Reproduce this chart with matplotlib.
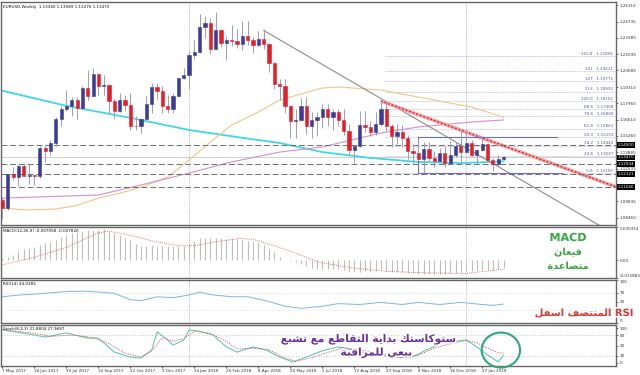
import numpy as np
import matplotlib
matplotlib.use('Agg')
import matplotlib.pyplot as plt
import matplotlib.patheffects as pe
from matplotlib.patches import Ellipse
from matplotlib.transforms import blended_transform_factory

# ---------------- data (EURUSD weekly) ----------------
opens = [1.0998, 1.0932, 1.1207, 1.1183, 1.1280, 1.1196, 1.1198, 1.1195, 1.1425, 1.1400,
         1.1470, 1.1665, 1.1750, 1.1773, 1.1820, 1.1760, 1.1923, 1.1860, 1.2035, 1.1943,
         1.1950, 1.1815, 1.1730, 1.1822, 1.1785, 1.1608, 1.1607, 1.1665, 1.1790, 1.1935,
         1.1895, 1.1770, 1.1750, 1.1860, 1.2005, 1.2030, 1.2200, 1.2220, 1.2425, 1.2460,
         1.2250, 1.2405, 1.2295, 1.2320, 1.2310, 1.2285, 1.2355, 1.2320, 1.2280, 1.2330,
         1.2290, 1.2130, 1.1960, 1.1940, 1.1770, 1.1650, 1.1660, 1.1770, 1.1610, 1.1655,
         1.1685, 1.1745, 1.1685, 1.1720, 1.1655, 1.1570, 1.1410, 1.1440, 1.1620, 1.1600,
         1.1555, 1.1625, 1.1745, 1.1605, 1.1525, 1.1560, 1.1510, 1.1400, 1.1385, 1.1335,
         1.1415, 1.1340, 1.1315, 1.1380, 1.1305, 1.1370, 1.1440, 1.1395, 1.1470, 1.1365,
         1.1405, 1.1455, 1.1325, 1.1295, 1.13340]
highs = [1.1023, 1.1208, 1.1268, 1.1285, 1.1296, 1.1296, 1.1200, 1.1446, 1.1445, 1.1490,
         1.1684, 1.1777, 1.1910, 1.1845, 1.1849, 1.1941, 1.2070, 1.2092, 1.2037, 1.2034,
         1.1960, 1.1832, 1.1880, 1.1861, 1.1880, 1.1688, 1.1670, 1.1860, 1.1961, 1.1961,
         1.1940, 1.1863, 1.1880, 1.2008, 1.2089, 1.2229, 1.2323, 1.2537, 1.2520, 1.2507,
         1.2556, 1.2410, 1.2354, 1.2446, 1.2413, 1.2476, 1.2476, 1.2345, 1.2396, 1.2414,
         1.2296, 1.2140, 1.1996, 1.1998, 1.1780, 1.1745, 1.1840, 1.1852, 1.1720, 1.1720,
         1.1791, 1.1790, 1.1750, 1.1750, 1.1747, 1.1625, 1.1450, 1.1733, 1.1734, 1.1650,
         1.1722, 1.1815, 1.1815, 1.1625, 1.1621, 1.1620, 1.1530, 1.1455, 1.1500, 1.1472,
         1.1472, 1.1400, 1.1423, 1.1442, 1.1485, 1.1474, 1.1570, 1.1570, 1.1490, 1.1418,
         1.1515, 1.1470, 1.1340, 1.1370, 1.13589]
lows = [1.0839, 1.0915, 1.1160, 1.1110, 1.1196, 1.1131, 1.1119, 1.1180, 1.1313, 1.1371,
        1.1440, 1.1612, 1.1729, 1.1688, 1.1662, 1.1740, 1.1823, 1.1857, 1.1868, 1.1861,
        1.1717, 1.1669, 1.1728, 1.1730, 1.1574, 1.1573, 1.1554, 1.1650, 1.1715, 1.1828,
        1.1716, 1.1718, 1.1717, 1.1855, 1.1996, 1.1915, 1.2165, 1.2215, 1.2335, 1.2205,
        1.2245, 1.2260, 1.2154, 1.2272, 1.2258, 1.2240, 1.2276, 1.2215, 1.2272, 1.2250,
        1.2055, 1.1911, 1.1823, 1.1717, 1.1510, 1.1509, 1.1650, 1.1541, 1.1508, 1.1527,
        1.1590, 1.1612, 1.1575, 1.1610, 1.1530, 1.1365, 1.1301, 1.1430, 1.1560, 1.1526,
        1.1530, 1.1610, 1.1570, 1.1432, 1.1462, 1.1430, 1.1335, 1.1302, 1.1315, 1.1216,
        1.1320, 1.1267, 1.1310, 1.1269, 1.1300, 1.1355, 1.1309, 1.1386, 1.1361, 1.1289,
        1.1400, 1.1323, 1.1234, 1.1277, 1.13276]
closes = [1.0932, 1.1207, 1.1183, 1.1280, 1.1196, 1.1198, 1.1195, 1.1425, 1.1400, 1.1470,
          1.1665, 1.1750, 1.1773, 1.1820, 1.1760, 1.1923, 1.1860, 1.2035, 1.1943, 1.1950,
          1.1815, 1.1730, 1.1822, 1.1785, 1.1608, 1.1607, 1.1665, 1.1790, 1.1935, 1.1895,
          1.1770, 1.1750, 1.1860, 1.2005, 1.2030, 1.2200, 1.2220, 1.2425, 1.2460, 1.2250,
          1.2405, 1.2295, 1.2320, 1.2310, 1.2285, 1.2355, 1.2320, 1.2280, 1.2330, 1.2290,
          1.2130, 1.1960, 1.1940, 1.1770, 1.1650, 1.1660, 1.1770, 1.1610, 1.1655, 1.1685,
          1.1745, 1.1685, 1.1720, 1.1655, 1.1570, 1.1410, 1.1440, 1.1620, 1.1600, 1.1555,
          1.1625, 1.1745, 1.1605, 1.1525, 1.1560, 1.1510, 1.1400, 1.1385, 1.1335, 1.1415,
          1.1340, 1.1315, 1.1380, 1.1305, 1.1370, 1.1440, 1.1395, 1.1470, 1.1365, 1.1405,
          1.1455, 1.1325, 1.1295, 1.1335, 1.13470]

# moving averages (bar index, price)
ma_cyan_idx = [0, 12, 24, 35, 45, 52, 60, 69, 78, 86, 94]
ma_cyan_val = [1.1900, 1.1775, 1.1675, 1.1575, 1.1510, 1.1467, 1.1392, 1.1343, 1.1310, 1.1300, 1.1315]
ma_orange_idx = [0, 5, 10, 14, 18, 22, 26, 31, 35, 39.5, 43, 48, 52, 54, 60, 63, 71, 78, 88, 94]
ma_orange_val = [1.0925, 1.0912, 1.0920, 1.0950, 1.1010, 1.1050, 1.1100, 1.1185, 1.1326, 1.1492,
                 1.1616, 1.1724, 1.1823, 1.1848, 1.1923, 1.1931, 1.1906, 1.1848, 1.1765, 1.1680]
ma_pink_idx = [0, 18, 26, 35, 43, 52, 60, 71, 78, 88, 94]
ma_pink_val = [1.1010, 1.1036, 1.1119, 1.1218, 1.1310, 1.1392, 1.1434, 1.1550, 1.1600, 1.1641, 1.1658]

# trend lines (bar index, price)
gray_trend_idx = [49, 113]
gray_trend_val = [1.2400, 1.0758]
red_trend_idx = [71, 115]
red_trend_val = [1.1815, 1.1105]

dashed_levels = [1.14500, 1.12934, 1.12121, 1.11046]
bid_price = 1.13470
marked_prices = [1.14500, 1.13470, 1.12934, 1.12121, 1.11046]

fib_pct = ['161.8', '141', '127', '113', '100.0', '88.6', '78.6', '61.8', '50.0', '38.2', '23.6', '0.0']
fib_price = [1.21856, 1.20611, 1.19771, 1.18932, 1.18152, 1.17468, 1.16868,
             1.15861, 1.15153, 1.14444, 1.13567, 1.12150]

price_ticks = [1.26110, 1.24735, 1.23385, 1.22035, 1.20685, 1.19310, 1.17960, 1.16610,
               1.15260, 1.13885, 1.12535, 1.09835, 1.08460]

date_idx = [0, 6, 12, 18, 24, 30, 36, 42, 48, 54, 60, 66, 72, 78, 84, 90]
date_labels = ['7 May 2017', '18 Jun 2017', '30 Jul 2017', '10 Sep 2017', '22 Oct 2017',
               '3 Dec 2017', '14 Jan 2018', '25 Feb 2018', '8 Apr 2018', '20 May 2018',
               '1 Jul 2018', '12 Aug 2018', '23 Sep 2018', '4 Nov 2018', '16 Dec 2018',
               '27 Jan 2019']
year_lines = [35, 87]

macd_hist = [0.0020, 0.0030, 0.0050, 0.0089, 0.0104, 0.0109, 0.0118, 0.0139, 0.0154, 0.0169,
             0.0187, 0.0213, 0.0231, 0.0251, 0.0258, 0.0269, 0.0272, 0.0274, 0.0278, 0.0281,
             0.0266, 0.0251, 0.0231, 0.0207, 0.0184, 0.0148, 0.0133, 0.0133, 0.0139, 0.0133,
             0.0127, 0.0127, 0.0127, 0.0127, 0.0130, 0.0150, 0.0178, 0.0199, 0.0205, 0.0207,
             0.0207, 0.0199, 0.0195, 0.0195, 0.0195, 0.0187, 0.0178, 0.0169, 0.0163, 0.0139,
             0.0104, 0.0074, 0.0030, 0.0006, -0.0009, -0.0018, -0.0033, -0.0053, -0.0068, -0.0075,
             -0.0075, -0.0077, -0.0076, -0.0080, -0.0088, -0.0102, -0.0108, -0.0100, -0.0098, -0.0100,
             -0.0097, -0.0088, -0.0092, -0.0100, -0.0102, -0.0106, -0.0114, -0.0118, -0.0123, -0.0120,
             -0.0123, -0.0126, -0.0122, -0.0123, -0.0118, -0.0110, -0.0106, -0.0098, -0.0097, -0.0092,
             -0.0085, -0.0086, -0.0084, -0.0079, -0.0071]
macd_sig_idx = [0, 6, 12, 18, 20, 24.5, 28, 33, 36, 40, 44.5, 47, 51, 54.6, 59.6, 66, 72, 78, 87, 94]
macd_sig_val = [-0.0040, 0.0030, 0.0118, 0.0251, 0.0266, 0.0222, 0.0178, 0.0133, 0.0133, 0.0170,
                0.0199, 0.0192, 0.0133, 0.0074, -0.0020, -0.0070, -0.0098, -0.0110, -0.0118, -0.0078]

rsi_idx = [0, 3, 6, 9, 12, 15, 18, 21, 24, 26, 29, 32, 35, 37, 39, 43, 46, 50, 53, 56,
           60, 63, 67, 71, 75, 78, 82, 86, 90, 92, 94]
rsi_val = [61, 65, 67, 70, 73, 74, 72, 69, 54, 52, 61, 59, 65, 72, 66, 61, 61, 50, 39, 34,
           39, 45, 43, 48, 43, 48, 43, 48, 43, 41, 44]

sto_idx = [0, 6, 8, 12, 16, 18, 21, 24, 26, 28, 29, 31, 32, 34, 35, 37, 39.5, 42, 44, 47,
           49.5, 52, 54.5, 57, 60, 63, 70, 74, 76.5, 79.5, 82.5, 87, 88.5, 91, 93, 94]
sto_main = [95, 80, 74, 86, 71, 71, 31, 17, 14, 37, 89, 66, 51, 66, 94, 91, 80, 46, 31, 46,
            37, 17, 3, 17, 35, 46, 23, 17, 14, 37, 57, 66, 51, 23, 3, 22]
sto_sig_idx = [0, 6, 9, 13, 17, 20, 23, 26, 28, 30, 32, 34, 36, 39, 42, 44, 47, 50, 53, 55,
               58, 61, 64, 70, 75, 78, 81, 84, 87, 89, 91, 93, 94]
sto_sig = [95, 85, 76, 80, 73, 55, 28, 17, 35, 72, 62, 70, 90, 85, 62, 40, 42, 38, 14, 5,
           15, 30, 44, 30, 18, 22, 42, 55, 64, 58, 42, 30, 28]

# ---------------- minimal Arabic shaping (presentation forms, visual order) ----------------
AR_FORMS = {
    'ا': (0xFE8D, 0xFE8E), 'ب': (0xFE8F, 0xFE90, 0xFE91, 0xFE92), 'ة': (0xFE93, 0xFE94),
    'ت': (0xFE95, 0xFE96, 0xFE97, 0xFE98), 'د': (0xFEA9, 0xFEAA), 'ر': (0xFEAD, 0xFEAE),
    'س': (0xFEB1, 0xFEB2, 0xFEB3, 0xFEB4), 'ش': (0xFEB5, 0xFEB6, 0xFEB7, 0xFEB8),
    'ص': (0xFEB9, 0xFEBA, 0xFEBB, 0xFEBC), 'ط': (0xFEC1, 0xFEC2, 0xFEC3, 0xFEC4),
    'ع': (0xFEC9, 0xFECA, 0xFECB, 0xFECC), 'ف': (0xFED1, 0xFED2, 0xFED3, 0xFED4),
    'ق': (0xFED5, 0xFED6, 0xFED7, 0xFED8), 'ك': (0xFED9, 0xFEDA, 0xFEDB, 0xFEDC),
    'ل': (0xFEDD, 0xFEDE, 0xFEDF, 0xFEE0), 'م': (0xFEE1, 0xFEE2, 0xFEE3, 0xFEE4),
    'ن': (0xFEE5, 0xFEE6, 0xFEE7, 0xFEE8), 'و': (0xFEED, 0xFEEE),
    'ي': (0xFEF1, 0xFEF2, 0xFEF3, 0xFEF4),
}


def shape_word(w):
    if not any(ch in AR_FORMS for ch in w):
        return w
    out = []
    for k, ch in enumerate(w):
        f = AR_FORMS.get(ch)
        if f is None:
            out.append(ch)
            continue
        prev = w[k - 1] if k > 0 else None
        nxt = w[k + 1] if k + 1 < len(w) else None
        jp = prev in AR_FORMS and len(AR_FORMS[prev]) == 4
        jn = nxt in AR_FORMS and len(f) == 4
        if jp and jn:
            c = f[3]
        elif jp:
            c = f[1]
        elif jn:
            c = f[2]
        else:
            c = f[0]
        out.append(chr(c))
    return ''.join(reversed(out))


def rtl(text):
    return ' '.join(shape_word(w) for w in reversed(text.split()))


# ---------------- figure ----------------
W, H = 640, 375
fig = plt.figure(figsize=(W / 100, H / 100), dpi=100, facecolor='white')


def panel(top, bottom):
    return fig.add_axes([1 / W, 1 - bottom / H, 615 / W, (bottom - top) / H])


ax = panel(2, 225)
ax_macd = panel(227, 278)
ax_rsi = panel(280, 323)
ax_sto = panel(325, 366)

idx = np.arange(len(closes))
xlim = (-0.28, 115.1)
c_up = '#3c3c94'
c_dn = '#e3202a'
c_wick = '#9a9ac4'
c_axis = '#666666'
small = 3

for a in (ax, ax_macd, ax_rsi, ax_sto):
    a.set_xlim(*xlim)
    a.set_facecolor('white')
    for s in a.spines.values():
        s.set_color(c_axis)
        s.set_linewidth(1.0)
    a.yaxis.tick_right()
    a.tick_params(axis='y', labelsize=small, length=1.5, pad=1, colors='#333333', width=0.5)
    a.tick_params(axis='x', length=0, labelbottom=False)
    for yl in year_lines:
        a.axvline(yl, color='#a0a0a0', lw=0.6, ls=(0, (1, 1.5)), zorder=1)


def keep_inside(a):
    # first tick label hangs below the top edge, last one sits above the bottom edge
    labs = a.get_yticklabels()
    labs[0].set_va('top')
    labs[-1].set_va('bottom')


# ---- main price panel ----
ax.set_ylim(1.07872, 1.26359)
ax.set_yticks(price_ticks)
ax.set_yticklabels([f'{p:.5f}' for p in price_ticks])

o = np.array(opens)
c = np.array(closes)
up = c >= o
ax.vlines(idx, lows, highs, color=c_wick, lw=0.7, zorder=3)
ax.bar(idx[up], (c - o)[up], bottom=o[up], width=0.6, color=c_up, edgecolor=c_up, lw=0.4, zorder=4)
ax.bar(idx[~up], (o - c)[~up], bottom=c[~up], width=0.6, color=c_dn, edgecolor=c_dn, lw=0.4, zorder=4)

ax.plot(ma_cyan_idx, ma_cyan_val, color='#3fd6e6', lw=1.3, zorder=2)
ax.plot(ma_orange_idx, ma_orange_val, color='#f3c485', lw=0.8, zorder=2)
ax.plot(ma_pink_idx, ma_pink_val, color='#d98ccf', lw=0.8, zorder=2)

ax.plot(gray_trend_idx, gray_trend_val, color='#8c8c8c', lw=0.8, zorder=2)
ax.plot(red_trend_idx, red_trend_val, color='#f2a8a8', lw=2.6, zorder=2, solid_capstyle='butt')
ax.plot(red_trend_idx, red_trend_val, color='#cc1f1f', lw=0.9, ls=(0, (1.5, 1.5)), zorder=2)

for lv in dashed_levels:
    ax.axhline(lv, color='#6e6e6e', lw=0.7, ls=(0, (6, 3)), zorder=2)
ax.axhline(bid_price, color='#c8c8c8', lw=0.6, zorder=1)

ax.hlines(fib_price, 71.7, xlim[1], colors='#9c9cd0', lw=0.5, linestyles=(0, (1, 1.2)), zorder=1)
for pct, p in zip(fib_pct, fib_price):
    ax.text(114.6, p + 0.0003, f'{pct}   {p:.5f}', ha='right', va='bottom',
            fontsize=small, color='#5a5aa0', zorder=5)

# blue box around the recent range
ax.plot([104, 78, 78, 105], [1.1515, 1.1515, 1.1215, 1.1215], color='#6c6cd8', lw=0.8, zorder=2)

tr = blended_transform_factory(ax.transAxes, ax.transData)
for p in marked_prices:
    ax.text(1.003, p, f'{p:.5f}', transform=tr, fontsize=small, color='white',
            va='center', ha='left', clip_on=False, zorder=6,
            bbox=dict(boxstyle='square,pad=0.2', fc='black', ec='none'))

ax.text(0.004, 0.985, 'EURUSD,Weekly  1.13340 1.13589 1.13276 1.13470', transform=ax.transAxes,
        fontsize=small, va='top', ha='left', color='#111111')

# ---- MACD ----
ax_macd.set_ylim(-0.015883, 0.030314)
ax_macd.vlines(idx, 0, macd_hist, color='#bdbdbd', lw=0.8, zorder=2)
ax_macd.plot(macd_sig_idx, macd_sig_val, color='#e05050', lw=0.6, ls=(0, (1, 1.5)), zorder=3)
ax_macd.set_yticks([0.030314, 0.0, -0.015883])
ax_macd.set_yticklabels(['0.030314', '0.00', '-0.015883'])
keep_inside(ax_macd)
ax_macd.text(0.004, 0.96, 'MACD(12,26,9) -0.007058 -0.007826', transform=ax_macd.transAxes,
             fontsize=small, va='top', ha='left', color='#111111')

# ---- RSI ----
ax_rsi.set_ylim(0, 100)
for lv in (70, 30):
    ax_rsi.axhline(lv, color='#d0d0d0', lw=0.5, ls=(0, (1, 1.5)))
ax_rsi.plot(rsi_idx, rsi_val, color='#7ab6e6', lw=0.7, zorder=3)
ax_rsi.set_yticks([100, 70, 50, 30, 0])
# the 30 label is covered by the RSI note in the reference
ax_rsi.set_yticklabels(['100', '70', '50', '', '0'])
keep_inside(ax_rsi)
ax_rsi.text(0.004, 0.96, 'RSI(14) 44.0385', transform=ax_rsi.transAxes,
            fontsize=small, va='top', ha='left', color='#111111')

# ---- Stochastic ----
ax_sto.set_ylim(-8.6, 108.6)
for lv in (80, 20):
    ax_sto.axhline(lv, color='#c8c8c8', lw=0.5, ls=(0, (2, 2)))
ax_sto.plot(sto_idx, sto_main, color='#4fc3a6', lw=0.7, zorder=3)
ax_sto.plot(sto_sig_idx, sto_sig, color='#e05050', lw=0.6, ls=(0, (1.5, 1.5)), zorder=3)
ax_sto.set_yticks([100, 80, 50, 20, 0])
ax_sto.text(0.004, 0.96, 'Stoch(8,3,3) 21.8804 27.9687', transform=ax_sto.transAxes,
            fontsize=small, va='top', ha='left', color='#111111')
ax_sto.set_xticks(date_idx)
ax_sto.set_xticklabels(date_labels, fontsize=small, ha='left', color='#333333')
ax_sto.tick_params(axis='x', length=1.5, pad=1, labelbottom=True, width=0.5)
ax_sto.add_patch(Ellipse((93.5, 37), width=7.2, height=100, fill=False, ec='#2aa97a',
                         lw=1.5, clip_on=False, zorder=6))

# ---------------- Arabic annotations ----------------
outline = [pe.withStroke(linewidth=2.2, foreground='white')]


def note(px, py, s, color, size):
    fig.text(px / W, 1 - py / H, s, ha='center', va='center', fontsize=size,
             fontweight='bold', color=color, family='DejaVu Sans', path_effects=outline, zorder=10)


green = '#3aa640'
note(568, 238, 'MACD', green, 8)
note(568, 252, rtl('قيعان'), green, 7)
note(568, 266, rtl('متصاعدة'), green, 7)

note(584, 313, rtl('المنتصف اسفل') + ' RSI', '#e03535', 7.2)

purple = '#6a2f9e'
note(368, 339, rtl('ستوكاستك بداية التقاطع مع تشبع'), purple, 7.6)
note(376, 353, rtl('بيعي للمراقبة'), purple, 7.6)

fig.savefig('out.png', dpi=100, facecolor='white')
